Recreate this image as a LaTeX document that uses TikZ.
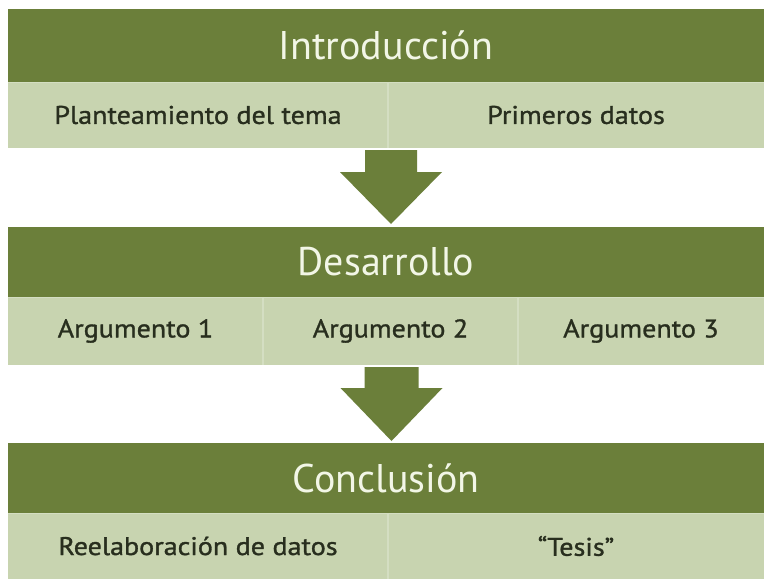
\documentclass[tikz,border=0pt]{standalone}
\usepackage{fontspec}
\setmainfont{PT Sans}
\newfontfamily\cellfont[FakeStretch=1.1,FakeBold=1.2]{PT Sans}
\usetikzlibrary{calc}
\definecolor{olive}{RGB}{107,127,58}
\definecolor{sage}{RGB}{200,212,176}
\definecolor{sageline}{RGB}{212,222,194}
\definecolor{hdrtext}{RGB}{242,246,230}
\definecolor{celltext}{RGB}{40,46,30}
\tikzset{
  hdr/.style={fill=olive, draw=none, anchor=north west, inner sep=0pt, outer sep=0pt,
    minimum width=756pt, text=hdrtext, font=\fontsize{40}{40}\selectfont},
  cell/.style={fill=sage, draw=none, anchor=north west, inner sep=0pt, outer sep=0pt,
    minimum height=66pt, text=celltext, font=\cellfont\fontsize{25.5}{25.5}\selectfont},
  divider/.style={draw=sageline, line width=1.2pt},
  downarrow/.style={fill=olive, draw=none}
}
\begin{document}
\begin{tikzpicture}[x=1pt,y=-1pt]
\useasboundingbox (0,0) rectangle (764,579);
\fill[white] (0,0) rectangle (764,579);
% Row 1
\node[hdr, minimum height=73pt] (intro) at (8,9) {Introducción};
\node[cell, minimum width=380pt] (plan) at (8,82) {Planteamiento del tema};
\node[cell, minimum width=376pt] (prim) at (388,82) {Primeros datos};
\draw[divider] (plan.north east) -- (plan.south east);
% Row 2
\node[hdr, minimum height=70pt] (desa) at (8,227) {Desarrollo};
\node[cell, minimum width=255pt, minimum height=68pt] (arg1) at (8,297) {Argumento 1};
\node[cell, minimum width=255pt, minimum height=68pt] (arg2) at (263,297) {Argumento 2};
\node[cell, minimum width=246pt, minimum height=68pt] (arg3) at (518,297) {Argumento 3};
\draw[divider] (arg1.north east) -- (arg1.south east);
\draw[divider] (arg2.north east) -- (arg2.south east);
% Row 3
\node[hdr, minimum height=70pt] (conc) at (8,443) {Conclusión};
\node[cell, minimum width=380pt] (reel) at (8,513) {Reelaboración de datos};
\node[cell, minimum width=376pt] (tesis) at (388,513) {“Tesis”};
\draw[divider] (reel.north east) -- (reel.south east);
% thin light seams under headers
\foreach \h in {intro,desa,conc}{
  \draw[sageline, line width=1pt] (\h.south west) -- (\h.south east);
}
% Arrow 1
\coordinate (a1top) at ($(plan.south east)+(3,2)$);
\fill[downarrow] ($(a1top)+(-26,0)$) -- ($(a1top)+(26,0)$) -- ($(a1top)+(26,22)$)
  -- ($(a1top)+(51,22)$) -- ($(a1top)+(0,74)$) -- ($(a1top)+(-51,22)$)
  -- ($(a1top)+(-26,22)$) -- cycle;
% Arrow 2
\coordinate (a2top) at ($(arg2.south)+(1,2)$);
\fill[downarrow] ($(a2top)+(-27,0)$) -- ($(a2top)+(27,0)$) -- ($(a2top)+(27,21)$)
  -- ($(a2top)+(51,21)$) -- ($(a2top)+(0,74)$) -- ($(a2top)+(-51,21)$)
  -- ($(a2top)+(-27,21)$) -- cycle;
\end{tikzpicture}
\end{document}
